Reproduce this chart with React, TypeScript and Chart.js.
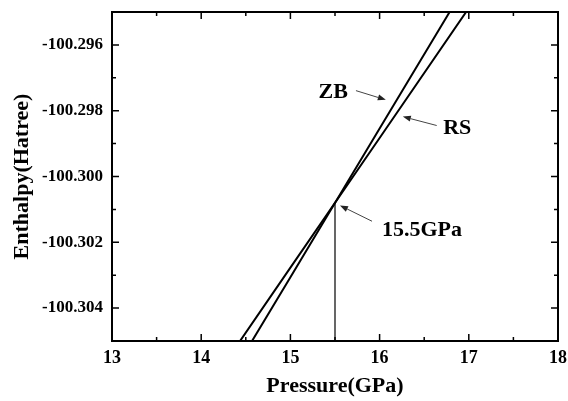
import React, { useEffect, useRef } from "react";
import { Chart, registerables } from "chart.js";

Chart.register(...registerables);

const pressure = [14, 15, 16, 17];
const zbEnthalpy = [-100.30757, -100.30306, -100.29854, -100.29403];
const rsEnthalpy = [-100.30672, -100.30277, -100.29883, -100.29488];
const transitionPressure = 15.5;
const transitionEnthalpy = -100.3008;

const xTicks = [13, 14, 15, 16, 17, 18];
const xMinorTicks = [13.5, 14.5, 15.5, 16.5, 17.5];
const yTicks = [-100.304, -100.302, -100.3, -100.298, -100.296];
const yMinorTicks = [-100.305, -100.303, -100.301, -100.299, -100.297, -100.295];

const labelTexts = ["ZB", "RS", "15.5GPa"];
const labelPos = [
  [15.48, -100.29745],
  [16.87, -100.29855],
  [16.475, -100.30164],
];
const arrowFrom = [
  [15.735, -100.29739],
  [16.64, -100.29845],
  [15.915, -100.30136],
];
const arrowTo = [
  [16.07, -100.29767],
  [16.26, -100.29818],
  [15.556, -100.30088],
];

const FONT = "'Liberation Serif', 'Times New Roman', serif";

const framePlugin = {
  id: "frameAndNotes",
  afterDraw(chart: any) {
    const { ctx, chartArea: a, scales } = chart;
    const xs = scales.x;
    const ys = scales.y;
    ctx.save();
    ctx.strokeStyle = "#000";
    ctx.lineWidth = 2;
    ctx.strokeRect(a.left, a.top, a.right - a.left, a.bottom - a.top);
    ctx.lineWidth = 1.5;
    const drawX = (v: number, len: number) => {
      const px = xs.getPixelForValue(v);
      ctx.beginPath();
      ctx.moveTo(px, a.bottom);
      ctx.lineTo(px, a.bottom - len);
      ctx.moveTo(px, a.top);
      ctx.lineTo(px, a.top + len);
      ctx.stroke();
    };
    const drawY = (v: number, len: number) => {
      const py = ys.getPixelForValue(v);
      ctx.beginPath();
      ctx.moveTo(a.left, py);
      ctx.lineTo(a.left + len, py);
      ctx.moveTo(a.right, py);
      ctx.lineTo(a.right - len, py);
      ctx.stroke();
    };
    xTicks.forEach((v) => drawX(v, 7));
    xMinorTicks.forEach((v) => drawX(v, 4));
    yTicks.forEach((v) => drawY(v, 7));
    yMinorTicks.forEach((v) => drawY(v, 4));
    ctx.fillStyle = "#000";
    ctx.font = `bold 22px ${FONT}`;
    ctx.textAlign = "center";
    ctx.textBaseline = "middle";
    labelTexts.forEach((t, i) => {
      ctx.fillText(t, xs.getPixelForValue(labelPos[i][0]), ys.getPixelForValue(labelPos[i][1]));
    });
    ctx.strokeStyle = "#444";
    ctx.fillStyle = "#222";
    ctx.lineWidth = 1;
    arrowFrom.forEach((f, i) => {
      const x1 = xs.getPixelForValue(f[0]);
      const y1 = ys.getPixelForValue(f[1]);
      const x2 = xs.getPixelForValue(arrowTo[i][0]);
      const y2 = ys.getPixelForValue(arrowTo[i][1]);
      const ang = Math.atan2(y2 - y1, x2 - x1);
      const hl = 8;
      const hw = 3;
      const bx = x2 - hl * Math.cos(ang);
      const by = y2 - hl * Math.sin(ang);
      ctx.beginPath();
      ctx.moveTo(x1, y1);
      ctx.lineTo(bx, by);
      ctx.stroke();
      ctx.beginPath();
      ctx.moveTo(x2, y2);
      ctx.lineTo(bx + hw * Math.sin(ang), by - hw * Math.cos(ang));
      ctx.lineTo(bx - hw * Math.sin(ang), by + hw * Math.cos(ang));
      ctx.closePath();
      ctx.fill();
    });
    ctx.restore();
  },
};

export default function App() {
  const ref = useRef<HTMLCanvasElement>(null);
  useEffect(() => {
    if (!ref.current) return;
    const chart = new Chart(ref.current, {
      type: "scatter",
      data: {
        datasets: [
          {
            label: "ZB",
            data: pressure.map((p, i) => ({ x: p, y: zbEnthalpy[i] })),
            showLine: true,
            borderColor: "#000",
            borderWidth: 2,
            pointRadius: 0,
          },
          {
            label: "RS",
            data: pressure.map((p, i) => ({ x: p, y: rsEnthalpy[i] })),
            showLine: true,
            borderColor: "#000",
            borderWidth: 2,
            pointRadius: 0,
          },
          {
            label: "transition",
            data: [
              { x: transitionPressure, y: -100.306 },
              { x: transitionPressure, y: transitionEnthalpy },
            ],
            showLine: true,
            borderColor: "#000",
            borderWidth: 1.2,
            pointRadius: 0,
          },
        ],
      },
      options: {
        animation: false,
        responsive: true,
        maintainAspectRatio: false,
        layout: { padding: { left: 0, right: 10, top: 12, bottom: 0 } },
        plugins: { legend: { display: false }, tooltip: { enabled: false } },
        scales: {
          x: {
            type: "linear",
            min: 13,
            max: 18,
            grid: { display: false, drawTicks: false },
            border: { display: false },
            afterFit: (s: any) => {
              s.height = 60;
              s.paddingLeft = 0;
              s.paddingRight = 0;
            },
            afterBuildTicks: (s: any) => {
              s.ticks = xTicks.map((v) => ({ value: v }));
            },
            ticks: {
              color: "#000",
              padding: 7,
              maxRotation: 0,
              font: { family: FONT, size: 18, weight: "bold" },
              callback: (v: any) => String(v),
            },
            title: {
              display: true,
              text: "Pressure(GPa)",
              color: "#000",
              padding: { top: 0, bottom: 1 },
              font: { family: FONT, size: 22, weight: "bold", lineHeight: 1.2 },
            },
          },
          y: {
            type: "linear",
            min: -100.305,
            max: -100.295,
            grid: { display: false, drawTicks: false },
            border: { display: false },
            afterFit: (s: any) => {
              s.width = 112;
              s.paddingTop = 0;
              s.paddingBottom = 0;
            },
            afterBuildTicks: (s: any) => {
              s.ticks = yTicks.map((v) => ({ value: v }));
            },
            ticks: {
              color: "#000",
              padding: 9,
              font: { family: FONT, size: 17, weight: "bold" },
              callback: (v: any) => Number(v).toFixed(3),
            },
            title: {
              display: true,
              text: "Enthalpy(Hatree)",
              color: "#000",
              padding: { top: 9, bottom: 0 },
              font: { family: FONT, size: 22, weight: "bold", lineHeight: 1.2 },
            },
          },
        },
      },
      plugins: [framePlugin],
    } as any);
    return () => chart.destroy();
  }, []);
  return (
    <div style={{ position: "fixed", left: 0, top: 0, width: 568, height: 401, background: "#fff" }}>
      <canvas ref={ref} />
    </div>
  );
}
